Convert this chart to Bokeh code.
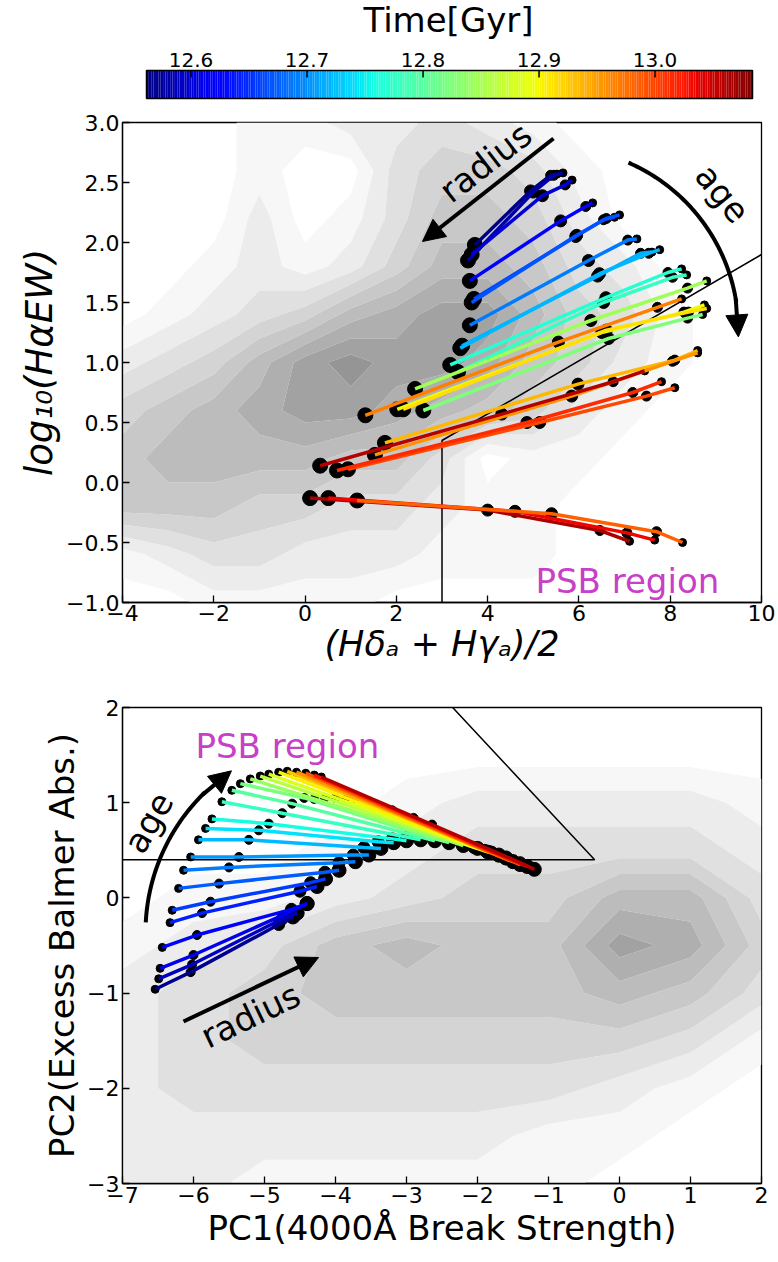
import numpy as np
from bokeh.plotting import figure
from bokeh.layouts import column
from bokeh.models import Range1d, FixedTicker, Arrow, NormalHead
from bokeh.embed import file_html
from bokeh.resources import INLINE
from bokeh.core.properties import value

FONT = "DejaVu Sans"

# ---------------- data ----------------
T_MIN, T_MAX = 12.5616, 13.084
cbar_ticks = [12.6, 12.7, 12.8, 12.9, 13.0]
cbar_title = "Time[Gyr]"

# top panel: (time, x[4], y[4]) radial profiles, big marker first
top_time = [12.564, 12.580, 12.600, 12.620, 12.660, 12.670, 12.690, 12.716, 12.720,
            12.768, 12.778, 12.846, 12.825, 12.898, 12.914, 12.966, 12.935, 12.956,
            12.997, 13.013, 13.060, 13.065, 13.034, 12.984]
top_x = [[3.72, 4.94, 5.38, 5.52], [3.57, 5.00, 5.45, 5.65], [3.65, 5.20, 5.70, 5.85],
         [3.61, 5.60, 6.15, 6.30], [3.70, 5.93, 6.54, 6.78], [3.65, 5.95, 6.60, 6.89],
         [3.61, 6.21, 7.07, 7.27], [3.44, 6.41, 7.35, 7.60], [3.40, 6.45, 7.53, 7.77],
         [3.18, 6.59, 7.95, 8.25], [3.35, 6.54, 8.05, 8.36], [2.41, 6.26, 8.38, 8.80],
         [2.59, 6.65, 8.38, 8.71], [2.02, 6.50, 8.30, 8.75], [2.15, 6.60, 8.40, 8.80],
         [1.32, 5.55, 7.72, 8.25], [1.75, 5.98, 8.10, 8.60], [1.53, 5.84, 8.05, 8.60],
         [0.94, 5.14, 7.48, 8.10], [0.70, 4.86, 7.18, 7.81], [0.33, 4.31, 6.75, 7.44],
         [0.11, 4.00, 6.46, 7.11], [0.51, 4.60, 7.05, 7.66], [1.14, 5.40, 7.70, 8.27]]
top_y = [[1.98, 2.43, 2.56, 2.57], [1.85, 2.42, 2.56, 2.58], [1.90, 2.39, 2.48, 2.52],
         [1.68, 2.18, 2.30, 2.33], [1.53, 2.05, 2.19, 2.21], [1.50, 2.06, 2.20, 2.23],
         [1.31, 1.85, 2.02, 2.03], [1.14, 1.72, 1.91, 1.92], [1.12, 1.74, 1.91, 1.94],
         [0.98, 1.54, 1.75, 1.78], [0.92, 1.50, 1.71, 1.73], [0.78, 1.35, 1.62, 1.68],
         [0.60, 1.20, 1.37, 1.40], [0.61, 1.25, 1.42, 1.48], [0.61, 1.27, 1.42, 1.45],
         [0.56, 1.17, 1.46, 1.53], [0.33, 0.82, 1.02, 1.10], [0.23, 0.72, 1.01, 1.08],
         [0.11, 0.50, 0.72, 0.79], [0.10, 0.50, 0.75, 0.84], [0.14, 0.57, 0.84, 0.93],
         [-0.13, -0.23, -0.40, -0.49], [-0.13, -0.24, -0.42, -0.48], [-0.15, -0.26, -0.41, -0.50]]

# bottom panel: (time, x[4], y[4]), small marker first
bot_time = [12.569, 12.590, 12.611, 12.627, 12.643, 12.658, 12.674, 12.690, 12.705,
            12.721, 12.742, 12.757, 12.778, 12.799, 12.820, 12.841, 12.862, 12.883,
            12.904, 12.930, 12.956, 12.987, 13.024, 13.060]
bot_x = [[-6.54, -6.04, -4.80, -4.60], [-6.49, -6.02, -4.75, -4.54], [-6.47, -6.00, -4.62, -4.40],
         [-6.44, -5.95, -4.62, -4.40], [-6.33, -5.88, -4.50, -4.26], [-6.30, -5.76, -4.35, -4.14],
         [-6.21, -5.64, -4.15, -3.95], [-6.14, -5.50, -3.95, -3.72], [-6.04, -5.36, -3.75, -3.53],
         [-5.93, -5.22, -3.60, -3.36], [-5.83, -5.08, -3.40, -3.18], [-5.74, -4.94, -3.20, -3.00],
         [-5.60, -4.75, -3.00, -2.80], [-5.46, -4.61, -2.80, -2.60], [-5.34, -4.44, -2.60, -2.40],
         [-5.20, -4.30, -2.40, -2.20], [-5.06, -4.15, -2.20, -2.00], [-4.94, -4.00, -2.05, -1.85],
         [-4.80, -3.85, -1.90, -1.70], [-4.68, -3.72, -1.80, -1.60], [-4.55, -3.50, -1.70, -1.50],
         [-4.42, -3.20, -1.60, -1.40], [-4.30, -2.90, -1.50, -1.30], [-4.20, -2.64, -1.40, -1.20]]
bot_y = [[-0.96, -0.78, -0.28, -0.20], [-0.85, -0.70, -0.22, -0.16], [-0.74, -0.60, -0.14, -0.06],
         [-0.52, -0.39, -0.12, -0.06], [-0.26, -0.16, 0.07, 0.12], [-0.13, -0.04, 0.16, 0.20],
         [0.10, 0.15, 0.27, 0.29], [0.29, 0.32, 0.37, 0.38], [0.43, 0.43, 0.45, 0.45],
         [0.61, 0.61, 0.53, 0.52], [0.73, 0.71, 0.59, 0.58], [0.83, 0.78, 0.62, 0.60],
         [1.01, 0.89, 0.64, 0.61], [1.13, 0.99, 0.64, 0.60], [1.20, 1.05, 0.62, 0.58],
         [1.25, 1.04, 0.60, 0.55], [1.28, 1.05, 0.57, 0.52], [1.30, 1.05, 0.53, 0.48],
         [1.32, 1.05, 0.50, 0.45], [1.33, 1.05, 0.48, 0.42], [1.32, 1.00, 0.44, 0.38],
         [1.31, 0.92, 0.41, 0.35], [1.29, 0.84, 0.39, 0.33], [1.27, 0.77, 0.37, 0.30]]

# density (grey contour) grids, rows listed from top to bottom
top_grid_x = [-4, -3, -2, -1, 0, 1, 2, 3, 4, 5, 6, 7, 8, 9, 10]
top_grid_y = [3.0, 2.6, 2.2, 1.8, 1.4, 1.0, 0.6, 0.2, -0.2, -0.6, -1.0]
top_density = [
    [0, 0, 0, 1, 1, 2, 2, 3, 2, 1, 0, 0, 0, 0, 0],
    [0, 0, 0, 1, 0, 0, 3, 4, 4, 3, 1, 0, 0, 0, 0],
    [0, 0, 0, 2, 0, 1, 3, 5, 5, 4, 2, 0, 0, 0, 0],
    [0, 0, 1, 2, 1, 2, 4, 6, 6, 5, 3, 2, 0, 0, 0],
    [0, 1, 2, 3, 4, 6, 7, 8, 8, 6, 4, 3, 1, 0, 0],
    [2, 3, 4, 6, 8, 9, 8, 8, 7, 5, 4, 2, 1, 0, 0],
    [4, 5, 6, 7, 8, 8, 7, 6, 5, 4, 2, 1, 0, 0, 0],
    [5, 6, 6, 6, 6, 5, 5, 3, 0, 1, 1, 0, 0, 0, 0],
    [5, 5, 5, 4, 4, 3, 3, 2, 1, 1, 0, 0, 0, 0, 0],
    [1, 2, 3, 3, 2, 2, 2, 1, 1, 1, 0, 0, 0, 0, 0],
    [0, 0, 1, 1, 1, 1, 0, 0, 0, 0, 0, 0, 0, 0, 0],
]
bot_grid_x = [-7, -6, -5, -4, -3, -2, -1, 0, 1, 2]
bot_grid_y = [2.0, 1.5, 1.0, 0.5, 0.0, -0.5, -1.0, -1.5, -2.0, -2.5, -3.0]
bot_density = [
    [0, 0, 0, 0, 0, 0, 0, 0, 0, 0],
    [0, 0, 0, 0, 0, 0, 0, 0, 0, 0],
    [0, 0, 0, 0, 1, 2, 2, 2, 2, 1],
    [0, 0, 0, 1, 2, 3, 3, 3, 3, 2],
    [0, 1, 1, 2, 3, 4, 4, 6, 6, 3],
    [1, 2, 3, 5, 6, 5, 5, 8, 7, 4],
    [2, 3, 4, 5, 5, 5, 5, 6, 5, 3],
    [2, 3, 4, 4, 4, 4, 4, 4, 3, 1],
    [2, 3, 3, 3, 3, 3, 3, 2, 1, 0],
    [2, 2, 2, 2, 2, 2, 1, 1, 0, 0],
    [2, 2, 1, 1, 1, 1, 1, 0, 0, 0],
]

top_x_ticks = [-4, -2, 0, 2, 4, 6, 8, 10]
top_y_ticks = [-1.0, -0.5, 0.0, 0.5, 1.0, 1.5, 2.0, 2.5, 3.0]
bot_x_ticks = [-7, -6, -5, -4, -3, -2, -1, 0, 1, 2]
bot_y_ticks = [-3, -2, -1, 0, 1, 2]

# ---------------- helpers ----------------
GREYS = ["#f7f7f7", "#ececec", "#e0e0e0", "#d4d4d4", "#c8c8c8",
         "#bcbcbc", "#afafaf", "#a2a2a2", "#959595"]
LEVELS = [0.5 + i for i in range(10)]
BIG = "34px"
TICKF = "22px"
CBF = "20px"


def jet(t):
    v = (t - T_MIN) / (T_MAX - T_MIN)
    r = np.interp(v, [0, 0.35, 0.66, 0.89, 1], [0, 0, 1, 1, 0.5])
    g = np.interp(v, [0, 0.125, 0.375, 0.64, 0.91, 1], [0, 0, 1, 1, 0, 0])
    b = np.interp(v, [0, 0.11, 0.34, 0.65, 1], [0.5, 1, 1, 0, 0])
    return "#%02x%02x%02x" % (int(round(r * 255)), int(round(g * 255)), int(round(b * 255)))


def minus(s):
    return s.replace("-", "\u2212")


def style_axes(p, xt, yt, xfmt, yfmt):
    p.xaxis.ticker = FixedTicker(ticks=xt)
    p.yaxis.ticker = FixedTicker(ticks=yt)
    p.xaxis.major_label_overrides = {v: minus(xfmt.format(v)) for v in xt}
    p.yaxis.major_label_overrides = {v: minus(yfmt.format(v)) for v in yt}
    for ax in (p.xaxis[0], p.yaxis[0]):
        ax.major_tick_in = 7
        ax.major_tick_out = 0
        ax.minor_tick_in = 0
        ax.minor_tick_out = 0
        ax.major_tick_line_width = 1.3
        ax.axis_line_width = 1.3
        ax.major_label_text_font = FONT
        ax.major_label_text_font_size = TICKF
        ax.major_label_text_color = "black"
        ax.axis_label_text_font = FONT
        ax.axis_label_text_font_size = BIG
        ax.axis_label_text_color = "black"
        ax.axis_label_text_font_style = "normal"
        ax.major_label_standoff = 3
        ax.axis_label_standoff = 2
    p.xgrid.visible = False
    p.ygrid.visible = False
    p.outline_line_color = "black"
    p.outline_line_width = 1.3
    p.background_fill_color = "white"
    p.border_fill_color = "white"


W = 778
FL = 122
FW = 639
FR = W - FL - FW

# ---------------- colour bar (drawn in page-pixel coordinates) ----------------
CB_L, CB_R, CB_T, CB_B = 146, 752, 70, 98
s_px = (CB_R - CB_L) / (T_MAX - T_MIN)
cb = figure(frame_width=FW, frame_height=110, min_border_left=FL, min_border_right=FR,
            min_border_top=0, min_border_bottom=0,
            x_range=Range1d(T_MIN - (CB_L - FL) / s_px, T_MIN + (FL + FW - CB_L) / s_px),
            y_range=Range1d(110, 0), x_axis_location=None, y_axis_location=None,
            output_backend="svg", toolbar_location=None)
cb.outline_line_color = None
cb.xgrid.visible = False
cb.ygrid.visible = False
edges = np.linspace(T_MIN, T_MAX, 257)
cb.quad(left=edges[:-1], right=edges[1:], bottom=CB_B, top=CB_T,
        fill_color=[jet(0.5 * (a + b)) for a, b in zip(edges[:-1], edges[1:])], line_color=None)
cb.quad(left=[T_MIN], right=[T_MAX], bottom=[CB_B], top=[CB_T], fill_color=None,
        line_color="black", line_width=1.5)
cb.segment(x0=cbar_ticks, x1=cbar_ticks, y0=[CB_T] * len(cbar_ticks), y1=[CB_T + 7] * len(cbar_ticks),
           line_color="black", line_width=1.5)
cb.text(x=cbar_ticks, y=[CB_T - 4] * len(cbar_ticks), text=["%.1f" % v for v in cbar_ticks],
        text_align="center", text_baseline="bottom", text_font=value(FONT),
        text_font_size=CBF, text_color="black")
cb.text(x=[T_MIN + (448 - CB_L) / s_px], y=[19], text=[cbar_title], text_align="center",
        text_baseline="middle", text_font=value(FONT), text_font_size=BIG, text_color="black")

# ---------------- top panel ----------------
TX0, TX1, TY0, TY1 = -4.0, 10.0, -1.0, 3.0
TOP_FT = 122   # page y of top frame edge
TFH = 480
p1 = figure(frame_width=FW, frame_height=TFH, min_border_left=FL, min_border_right=FR,
            min_border_top=12, min_border_bottom=88, x_range=Range1d(TX0, TX1),
            y_range=Range1d(TY0, TY1), output_backend="svg", toolbar_location=None)
style_axes(p1, top_x_ticks, top_y_ticks, "{:.0f}", "{:.1f}")
p1.xaxis.axis_label = "(H\u03b4\u2090 + H\u03b3\u2090)/2"
p1.xaxis.axis_label_text_font_style = "italic"
p1.xaxis.axis_label_text_font_size = "35px"
p1.xaxis.axis_label_standoff = 0
p1.xaxis.major_label_standoff = 2
p1.yaxis.axis_label = "log\u2081\u2080(H\u03b1EW)"
p1.yaxis.axis_label_text_font_style = "italic"
p1.yaxis.axis_label_text_font_size = "37px"

zt = np.array(top_density[::-1], dtype=float)
p1.contour(np.array(top_grid_x, float), np.array(top_grid_y[::-1], float), zt,
           levels=LEVELS, fill_color=GREYS, line_color=None)


def tpx(px, py):
    return (TX0 + (px - FL) / FW * (TX1 - TX0), TY1 - (py - TOP_FT) / TFH * (TY1 - TY0))


# PSB boundary
p1.line([3.0, 3.0, 10.0], [-1.0, 0.35, 1.9], line_color="black", line_width=1.5)

top_sizes = [15, 12, 10, 8]
for xs, ys in zip(top_x, top_y):
    p1.scatter(xs, ys, size=top_sizes, fill_color="black", line_color="black")
for t, xs, ys in zip(top_time, top_x, top_y):
    p1.line(xs, ys, line_color=jet(t), line_width=3.5)

# radius arrow
a0 = tpx(553, 138)
a1 = tpx(422, 241)
p1.add_layout(Arrow(end=NormalHead(size=22, fill_color="black", line_color="black"),
                    x_start=a0[0], y_start=a0[1], x_end=a1[0], y_end=a1[1],
                    line_width=4, line_color="black"))
rc = tpx(485, 162)
p1.text([rc[0]], [rc[1]], text=["radius"], angle=0.66, text_align="center",
        text_baseline="middle", text_font=value(FONT), text_font_size=BIG, text_color="black")
# age arc
cx, cy, rr = 555, 330, 183
ang = np.radians(np.linspace(66.5, 9, 60))
arc = [tpx(cx + rr * np.cos(a), cy - rr * np.sin(a)) for a in ang]
p1.line([a[0] for a in arc], [a[1] for a in arc], line_color="black", line_width=4)
h0 = tpx(cx + rr * np.cos(np.radians(10)), cy - rr * np.sin(np.radians(10)))
h1 = tpx(cx + rr * np.cos(np.radians(-2)), cy - rr * np.sin(np.radians(-2)))
p1.add_layout(Arrow(end=NormalHead(size=22, fill_color="black", line_color="black"),
                    x_start=h0[0], y_start=h0[1], x_end=h1[0], y_end=h1[1],
                    line_width=4, line_color="black"))
ac = tpx(722, 193)
p1.text([ac[0]], [ac[1]], text=["age"], angle=-0.885, text_align="center",
        text_baseline="middle", text_font=value(FONT), text_font_size=BIG, text_color="black")
psb_t = tpx(535, 580)
p1.text([psb_t[0]], [psb_t[1]], text=["PSB region"], text_align="left", text_baseline="middle",
        text_font=value(FONT), text_font_size=BIG, text_color="#c83fc8")

# ---------------- bottom panel ----------------
BX0, BX1, BY0, BY1 = -7.0, 2.0, -3.0, 2.0
BOT_FT = 707
BFH = 476
p2 = figure(frame_width=FW, frame_height=BFH, min_border_left=FL, min_border_right=FR,
            min_border_top=17, min_border_bottom=79, x_range=Range1d(BX0, BX1),
            y_range=Range1d(BY0, BY1), output_backend="svg", toolbar_location=None)
style_axes(p2, bot_x_ticks, bot_y_ticks, "{:.0f}", "{:.0f}")
p2.xaxis.axis_label = "PC1(4000\u00c5 Break Strength)"
p2.yaxis.axis_label = "PC2(Excess Balmer Abs.)"

zb = np.array(bot_density[::-1], dtype=float)
p2.contour(np.array(bot_grid_x, float), np.array(bot_grid_y[::-1], float), zb,
           levels=LEVELS, fill_color=GREYS, line_color=None)


def bpx(px, py):
    return (BX0 + (px - FL) / FW * (BX1 - BX0), BY1 - (py - BOT_FT) / BFH * (BY1 - BY0))


p2.line([-7.0, -0.35, -2.35], [0.4, 0.4, 2.0], line_color="black", line_width=1.5)

bot_sizes = [8, 9, 12, 14]
for xs, ys in zip(bot_x, bot_y):
    p2.scatter(xs, ys, size=bot_sizes, fill_color="black", line_color="black")
for t, xs, ys in zip(bot_time, bot_x, bot_y):
    p2.line(xs, ys, line_color=jet(t), line_width=3.5)

b0 = bpx(183, 1021)
b1 = bpx(318, 957)
p2.add_layout(Arrow(end=NormalHead(size=22, fill_color="black", line_color="black"),
                    x_start=b0[0], y_start=b0[1], x_end=b1[0], y_end=b1[1],
                    line_width=4, line_color="black"))
rb = bpx(250, 1015)
p2.text([rb[0]], [rb[1]], text=["radius"], angle=0.445, text_align="center",
        text_baseline="middle", text_font=value(FONT), text_font_size=BIG, text_color="black")
cx, cy, rr = 340, 932, 195
ang = np.radians(np.linspace(177, 134, 60))
arc = [bpx(cx + rr * np.cos(a), cy - rr * np.sin(a)) for a in ang]
p2.line([a[0] for a in arc], [a[1] for a in arc], line_color="black", line_width=4)
h0 = bpx(cx + rr * np.cos(np.radians(135)), cy - rr * np.sin(np.radians(135)))
h1 = bpx(cx + rr * np.cos(np.radians(124)), cy - rr * np.sin(np.radians(124)))
p2.add_layout(Arrow(end=NormalHead(size=22, fill_color="black", line_color="black"),
                    x_start=h0[0], y_start=h0[1], x_end=h1[0], y_end=h1[1],
                    line_width=4, line_color="black"))
ab = bpx(148, 822)
p2.text([ab[0]], [ab[1]], text=["age"], angle=1.047, text_align="center",
        text_baseline="middle", text_font=value(FONT), text_font_size=BIG, text_color="black")
psb_b = bpx(195, 745)
p2.text([psb_b[0]], [psb_b[1]], text=["PSB region"], text_align="left", text_baseline="middle",
        text_font=value(FONT), text_font_size=BIG, text_color="#c83fc8")

layout = column(cb, p1, p2, spacing=0)
open("out.html", "w").write(file_html(layout, INLINE))
